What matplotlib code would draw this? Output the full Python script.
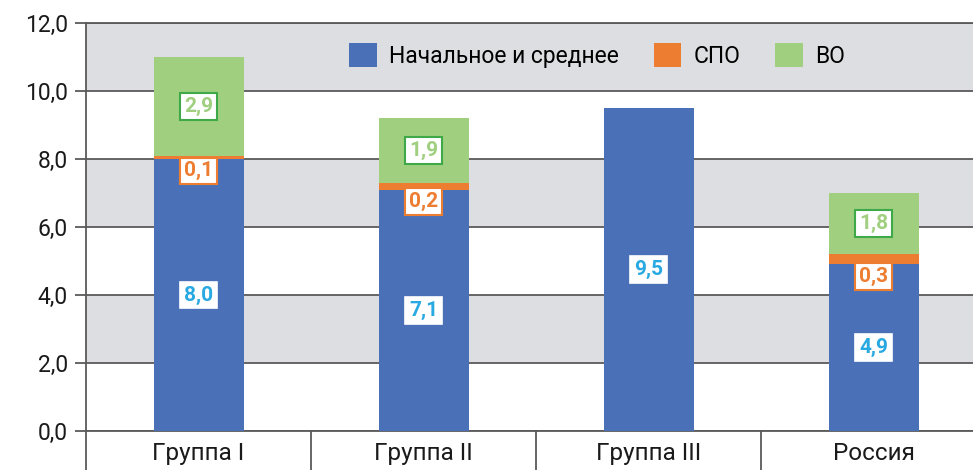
import matplotlib.pyplot as plt
import numpy as np

#------------------Chart data------------------
categories = ['Группа I', 'Группа II', 'Группа III', 'Россия']
series_names = ['Начальное и среднее', 'СПО', 'ВО']
basic = [8.0, 7.1, 9.5, 4.9]
spo = [0.1, 0.2, 0.0, 0.3]
vo = [2.9, 1.9, 0.0, 1.8]
yticks = [0, 2, 4, 6, 8, 10, 12]
#------------------Chart data------------------

plt.rcParams['font.family'] = ['Roboto', 'DejaVu Sans']

c_blue = '#4a71b7'
c_orange = '#ed7d31'
c_green = '#9fcf7f'
c_grid = '#5a5a5a'
c_band = '#dddee1'

fig = plt.figure(figsize=(9.73, 4.70), dpi=100)
ax = fig.add_axes([86 / 973, 39 / 470, 900 / 973, 408 / 470])

x = np.arange(len(categories))
basic = np.array(basic)
spo = np.array(spo)
vo = np.array(vo)

#------------------Background bands (white 0-2, gray 2-4, ...)------------------
for i in range(len(yticks) - 1):
    ax.axhspan(yticks[i], yticks[i + 1], color=c_band if i % 2 == 1 else 'white', zorder=0, lw=0)

#------------------Bars------------------
w = 0.4
ax.bar(x, basic, w, color=c_blue, label=series_names[0], zorder=3)
ax.bar(x, spo, w, bottom=basic, color=c_orange, label=series_names[1], zorder=3)
ax.bar(x, vo, w, bottom=basic + spo, color=c_green, label=series_names[2], zorder=3)

def fmt(v):
    return f'{v:.1f}'.replace('.', ',')

lab_kw = dict(ha='center', va='center', fontsize=15, fontweight='bold', zorder=5)
for i in range(len(categories)):
    ax.text(x[i], basic[i] / 2, fmt(basic[i]), color='#29a9e1',
            bbox=dict(boxstyle='square,pad=0.18', fc='white', ec='white', lw=1.2), **lab_kw)
    if spo[i] > 0:
        ax.text(x[i], basic[i] - 0.35, fmt(spo[i]), color=c_orange,
                bbox=dict(boxstyle='square,pad=0.18', fc='white', ec=c_orange, lw=1.5), **lab_kw)
    if vo[i] > 0:
        ax.text(x[i], basic[i] + spo[i] + vo[i] / 2, fmt(vo[i]), color=c_green,
                bbox=dict(boxstyle='square,pad=0.18', fc='white', ec='#3fa94a', lw=1.5), **lab_kw)

#------------------Axes------------------
ax.set_xlim(-0.5, len(categories) - 0.5)
ax.set_ylim(0, 12)
ax.set_yticks(yticks)
ax.set_yticklabels([fmt(v) for v in yticks], fontsize=16.5)
ax.yaxis.grid(True, color=c_grid, lw=1.3, zorder=1)
ax.set_axisbelow(False)
ax.tick_params(axis='y', length=8, width=1.3, color=c_grid, pad=5, labelcolor='#1a1a1a')

ax.set_xticks(x)
ax.set_xticklabels(categories, fontsize=17.5, color='#1a1a1a')
ax.set_xticks(np.arange(-0.5, len(categories), 1), minor=True)
ax.tick_params(axis='x', which='major', length=0, pad=8)
ax.tick_params(axis='x', which='minor', length=30, width=1.3, color=c_grid, direction='out')

ax.spines['right'].set_visible(False)
for s in ['left', 'bottom', 'top']:
    ax.spines[s].set_color(c_grid)
    ax.spines[s].set_linewidth(1.3)

for line in ax.get_ygridlines():
    line.set_zorder(1)

ax.legend(loc='center', bbox_to_anchor=(0.568, 0.92), ncol=3, frameon=False,
          fontsize=16.5, handlelength=1.2, handleheight=1.2, columnspacing=1.5,
          handletextpad=0.55)

fig.savefig('out.png', dpi=100)
